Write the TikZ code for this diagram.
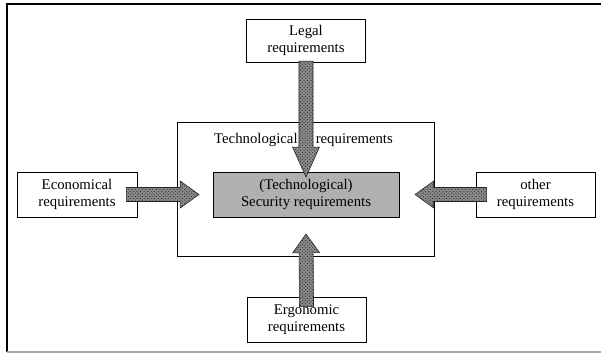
\documentclass[tikz,border=0pt]{standalone}
\usepackage{fontspec}
\setmainfont{Liberation Serif}
\usepackage{tikz}
\usetikzlibrary{calc,patterns}

% block arrow: [head length]{from}{to}
\newcommand{\fatarrow}[3][16pt]{%
  \coordinate (fa-h) at ($(#3)!#1!(#2)$);
  \draw[fatfill] ($(#2)!6pt!90:(#3)$) -- ($(fa-h)!6pt!90:(#3)$) -- ($(fa-h)!11.5pt!90:(#3)$)
    -- (#3) -- ($(fa-h)!11.5pt!-90:(#3)$) -- ($(fa-h)!6pt!-90:(#3)$) -- ($(#2)!6pt!-90:(#3)$) -- cycle;}

\begin{document}
\begin{tikzpicture}[x=0.03cm,y=-0.03cm,
  font=\fontsize{12.6}{14.5}\selectfont,
  req/.style={draw,line width=0.6pt,fill=white,align=center,inner sep=0pt,minimum width=3.57cm,minimum height=1.32cm},
  fatfill/.style={draw=black!85,line width=0.5pt,preaction={fill=gray!92},pattern=crosshatch dots,pattern color=black!85}]
\useasboundingbox (0,0) rectangle (601,353);
\draw[line width=1.4pt] (601,4) -- (7,4) -- (7,352);
\draw[line width=1.2pt,gray!70] (7,352) -- (601,352);

\node[draw,line width=0.6pt,minimum width=7.71cm,minimum height=4.02cm] (techbox) at (305.5,189) {};
\node[anchor=base] (techlbl) at (303.5,143) {Technological\hspace{15.5pt}requirements};
\node[req,fill=gray!62,minimum width=5.58cm,minimum height=1.35cm] (sec) at (306,194.5) {(Technological)\\Security requirements};

\node[req,minimum height=1.29cm] (legal) at (306,40.5) {Legal\\requirements};
\node[req,minimum width=3.6cm,minimum height=1.35cm] (econ) at (77,194.5) {Economical\\requirements};
\node[req,minimum height=1.35cm] (other) at (535.5,194.5) {other\\requirements};
\node[req,minimum height=1.35cm] (ergo) at (306.5,319.5) {Ergonomic\\requirements};

\coordinate (legal-out) at ([yshift=1pt]legal.south);
\coordinate (econ-out) at ([xshift=-9.4pt]econ.east);
\coordinate (other-out) at ([xshift=9.4pt]other.west);
\coordinate (ergo-out) at ([yshift=-8.5pt]ergo.north);
\coordinate (legal-tip) at (306,177);
\coordinate (econ-tip) at (199,194.5);
\coordinate (other-tip) at (415,194.5);
\coordinate (ergo-tip) at (306,234);

\fatarrow[25.5pt]{legal-out}{legal-tip}
\fatarrow{econ-out}{econ-tip}
\fatarrow{other-out}{other-tip}
\fatarrow{ergo-out}{ergo-tip}
\end{tikzpicture}
\end{document}
